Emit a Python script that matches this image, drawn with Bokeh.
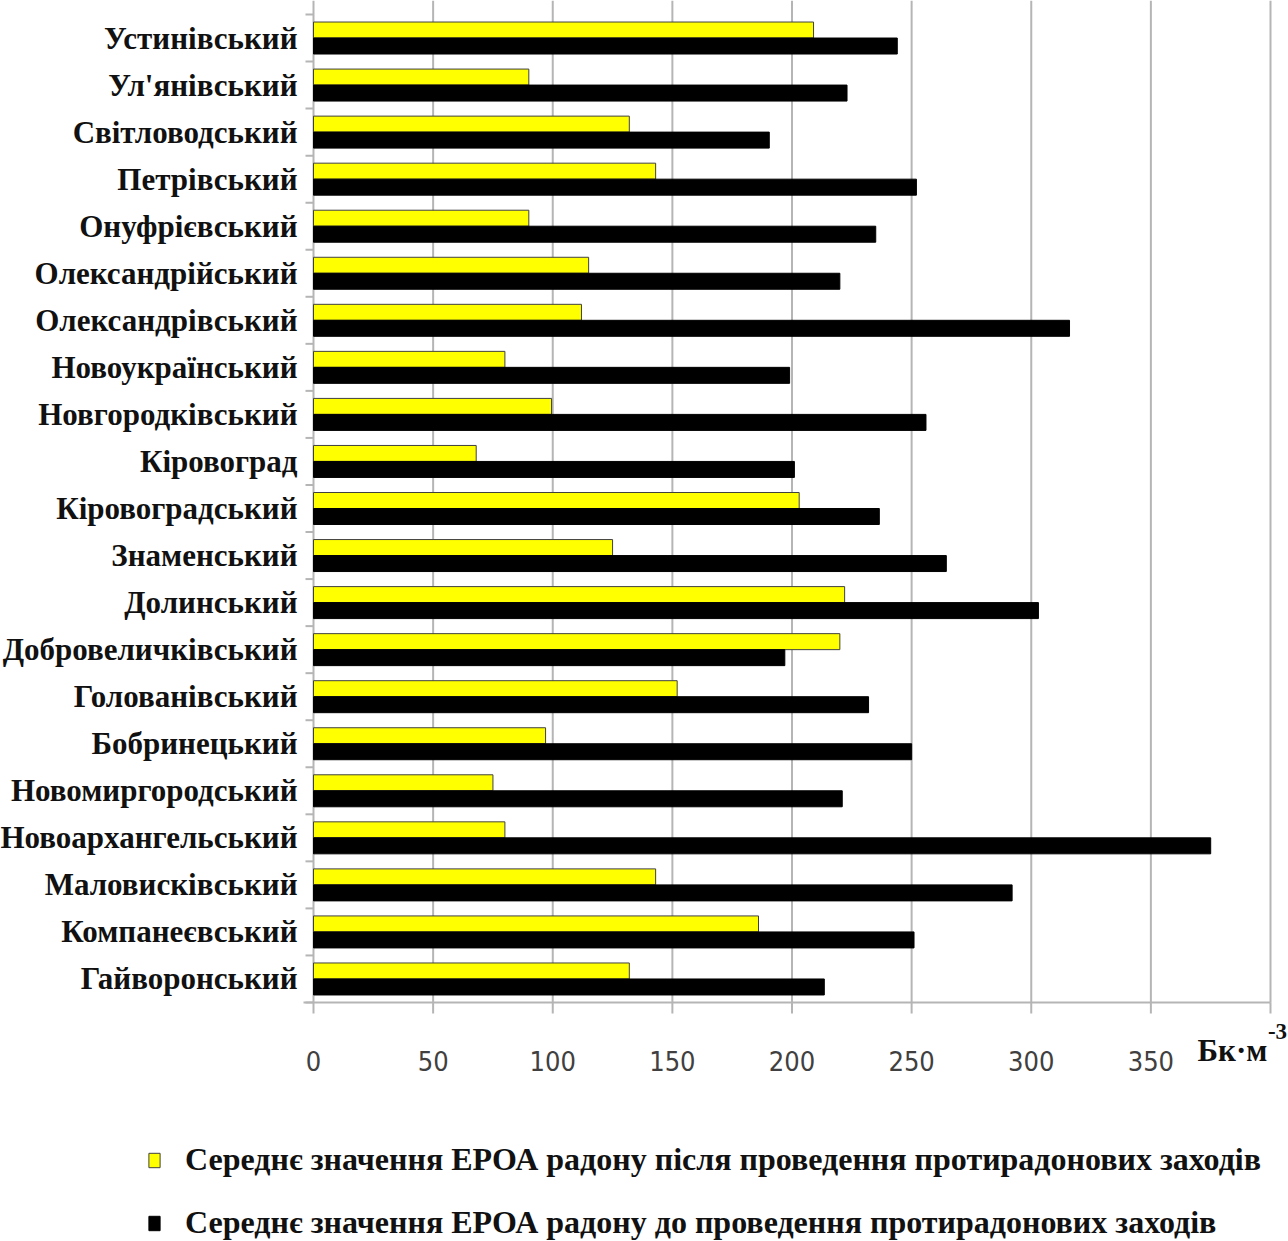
from bokeh.plotting import figure
from bokeh.models import ColumnDataSource, Range1d, Legend, LegendItem
from bokeh.core.properties import value
from bokeh.embed import file_html
from bokeh.resources import INLINE

districts = ["Устинівський", "Ул'янівський", "Світловодський", "Петрівський", "Онуфрієвський",
             "Олександрійський", "Олександрівський", "Новоукраїнський", "Новгородківський",
             "Кіровоград", "Кіровоградський", "Знаменський", "Долинський", "Добровеличківський",
             "Голованівський", "Бобринецький", "Новомиргородський", "Новоархангельський",
             "Маловисківський", "Компанеєвський", "Гайворонський"]
after = [209, 90, 132, 143, 90, 115, 112, 80, 99.5, 68, 203, 125, 222, 220, 152, 97, 75, 80, 143, 186, 132]
before = [244, 223, 190.5, 252, 235, 220, 316, 199, 256, 201, 236.5, 264.5, 303, 197, 232, 250, 221, 375, 292, 251, 213.5]
x_ticks = [0, 50, 100, 150, 200, 250, 300, 350, 400]
x_tick_labels = ["0", "50", "100", "150", "200", "250", "300", "350"]
unit_label = "Бк·м"
unit_exp = "-3"
after_label = "Середнє значення ЕРОА радону після проведення протирадонових заходів"
before_label = "Середнє значення ЕРОА радону до проведення протирадонових заходів"

W, H = 1288, 1241
left_px, top_px, axis_px = 313, 14, 1002          # frame geometry in screen pixels
x_max = x_ticks[-1]
sx = (1270 - left_px) / x_max                      # pixels per data unit
n = len(districts)
P = (axis_px - top_px) / n                         # pixels per category

x_range = Range1d(-left_px / sx, (W - left_px) / sx)
y_range = Range1d(-0.5 - (H - axis_px) / P, n - 0.5 + top_px / P)

pos = [n - 1 - i for i in range(n)]
src = ColumnDataSource(dict(d=districts, pos=pos,
                            ya=[p_ + 0.17 for p_ in pos], yb=[p_ - 0.17 for p_ in pos],
                            after=after, before=before))

serif = "Liberation Serif, Times New Roman, serif"
sans = "Liberation Sans Narrow, DejaVu Sans Condensed, Arial Narrow, sans-serif"

p = figure(width=W, height=H, x_range=x_range, y_range=y_range, output_backend="svg",
           toolbar_location=None, x_axis_location=None, y_axis_location=None, min_border=0)
p.outline_line_color = None
p.xgrid.grid_line_color = None
p.ygrid.grid_line_color = None

grey = "#b5b5b5"
# vertical gridlines
p.segment(x0=x_ticks[1:], x1=x_ticks[1:], y0=-0.5, y1=n - 0.5 + top_px / P,
          line_color=grey, line_width=2)
# y axis line and boundary ticks
p.segment(x0=[0], x1=[0], y0=[-0.5], y1=[n - 0.5 + top_px / P], line_color=grey, line_width=2)
bnd = [b - 0.5 for b in range(n + 1)]
p.segment(x0=-8 / sx, x1=0, y0=bnd, y1=bnd, line_color=grey, line_width=2)
# x axis line and ticks
p.segment(x0=[-10 / sx], x1=[x_max], y0=[-0.5], y1=[-0.5], line_color=grey, line_width=2)
p.segment(x0=x_ticks, x1=x_ticks, y0=-0.5, y1=-0.5 - 11 / P, line_color=grey, line_width=2)

r1 = p.hbar(y="ya", right="after", left=0, height=0.34, source=src,
            fill_color="#FFFF00", line_color="#404040", line_width=1)
r2 = p.hbar(y="yb", right="before", left=0, height=0.34, source=src,
            fill_color="#000000", line_color="#000000", line_width=1)

# x tick labels
p.text(x=x_ticks[:-1], y=[-0.5 - 58 / P] * len(x_tick_labels), text=x_tick_labels,
       text_font=value(sans), text_font_size="27px", text_color="#404040",
       text_align="center", text_baseline="middle")
# category labels
p.text(x=-16 / sx, y="pos", text="d", source=src, text_font=value(serif), text_font_style="bold",
       text_font_size="31px", text_color="#111111", text_align="right", text_baseline="middle")
# unit
p.text(x=[(1232 - left_px) / sx], y=[-0.5 - 48 / P], text=[unit_label], text_font=value(serif),
       text_font_style="bold", text_font_size="31px", text_color="#111111",
       text_align="center", text_baseline="middle")
p.text(x=[(1277 - left_px) / sx], y=[-0.5 - 29 / P], text=[unit_exp], text_font=value(serif),
       text_font_style="bold", text_font_size="23px", text_color="#111111",
       text_align="center", text_baseline="middle")

legend = Legend(items=[LegendItem(label=after_label, renderers=[r1]),
                       LegendItem(label=before_label, renderers=[r2])],
                location=(147, 0), orientation="vertical", padding=0, margin=0,
                label_text_font=serif, label_text_font_style="bold", label_text_font_size="32px",
                label_text_color="#111111", glyph_width=14, glyph_height=18, spacing=26,
                label_standoff=24, border_line_color=None, background_fill_alpha=0)
p.add_layout(legend)

open("out.html", "w").write(file_html(p, INLINE))
